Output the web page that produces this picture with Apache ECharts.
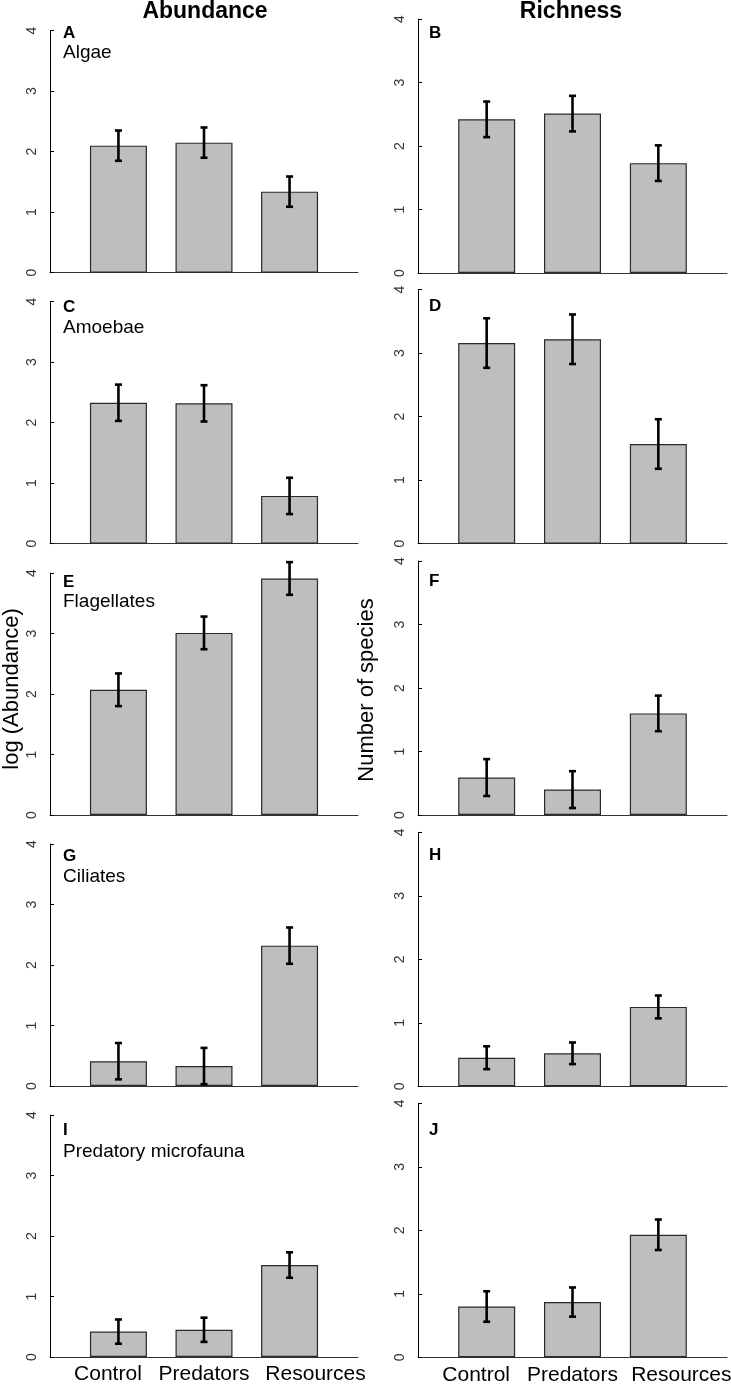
<!DOCTYPE html>
<html>
<head>
<meta charset="utf-8">
<script src="https://cdn.jsdelivr.net/npm/echarts@6/dist/echarts.min.js"></script>
<style>
  html, body { margin: 0; padding: 0; background: #fff; }
  #main { width: 731px; height: 1388px; }
</style>
</head>
<body>
<div id="main"></div>
<script>
// treatments on the x axis
const treatments = ['Control', 'Predators', 'Resources'];
const treatmentPos = [1, 2, 3];
const yTicks = [0, 1, 2, 3, 4];

// abundance, log scale (means and standard errors)
const algaeAbund = [2.10, 2.15, 1.34];
const algaeAbundErr = [0.25, 0.25, 0.25];
const amoebaeAbund = [2.33, 2.32, 0.79];
const amoebaeAbundErr = [0.30, 0.30, 0.30];
const flagAbund = [2.07, 3.01, 3.91];
const flagAbundErr = [0.27, 0.27, 0.27];
const ciliAbund = [0.41, 0.33, 2.32];
const ciliAbundErr = [0.30, 0.30, 0.30];
const predAbund = [0.42, 0.45, 1.52];
const predAbundErr = [0.20, 0.20, 0.21];

// richness, number of species
const algaeRich = [2.42, 2.51, 1.73];
const algaeRichErr = [0.28, 0.28, 0.28];
const amoebaeRich = [3.16, 3.22, 1.57];
const amoebaeRichErr = [0.39, 0.39, 0.39];
const flagRich = [0.59, 0.40, 1.60];
const flagRichErr = [0.29, 0.29, 0.28];
const ciliRich = [0.45, 0.52, 1.25];
const ciliRichErr = [0.18, 0.17, 0.18];
const predRich = [0.80, 0.87, 1.93];
const predRichErr = [0.24, 0.23, 0.24];

const groupNames = ['Algae', 'Amoebae', 'Flagellates', 'Ciliates', 'Predatory microfauna'];

let chartDom = document.getElementById('main');
let myChart = echarts.init(chartDom);
let option;

const FONT = '"Liberation Sans", Arial, sans-serif';

// layout of the panels (pixel boxes)
const leftTops = [30.7, 301.7, 573, 844, 1115];
const rightTops = [19, 289.7, 561, 832.3, 1103.3];
const letterY = {
    left: [33, 307, 582, 856.7, 1130.7],
    right: [33, 306.7, 581.7, 855.7, 1130.7]
};
const nameY = [53, 328, 602, 877, 1151.7];

const panels = [
    { letter: 'A', col: 0, row: 0, mean: algaeAbund, err: algaeAbundErr },
    { letter: 'B', col: 1, row: 0, mean: algaeRich, err: algaeRichErr },
    { letter: 'C', col: 0, row: 1, mean: amoebaeAbund, err: amoebaeAbundErr },
    { letter: 'D', col: 1, row: 1, mean: amoebaeRich, err: amoebaeRichErr },
    { letter: 'E', col: 0, row: 2, mean: flagAbund, err: flagAbundErr },
    { letter: 'F', col: 1, row: 2, mean: flagRich, err: flagRichErr },
    { letter: 'G', col: 0, row: 3, mean: ciliAbund, err: ciliAbundErr },
    { letter: 'H', col: 1, row: 3, mean: ciliRich, err: ciliRichErr },
    { letter: 'I', col: 0, row: 4, mean: predAbund, err: predAbundErr },
    { letter: 'J', col: 1, row: 4, mean: predRich, err: predRichErr }
];

function renderErr(params, api) {
    const x = api.value(0);
    const m = api.value(1);
    const e = api.value(2);
    const hi = api.coord([x, m + e]);
    const lo = api.coord([x, m - e]);
    const cap = 3.5;
    const st = { stroke: '#000', lineWidth: 2.6 };
    return {
        type: 'group',
        children: [
            { type: 'line', shape: { x1: hi[0], y1: hi[1], x2: lo[0], y2: lo[1] }, style: st },
            { type: 'line', shape: { x1: hi[0] - cap, y1: hi[1], x2: hi[0] + cap, y2: hi[1] }, style: st },
            { type: 'line', shape: { x1: lo[0] - cap, y1: lo[1], x2: lo[0] + cap, y2: lo[1] }, style: st }
        ]
    };
}

const grids = [], xAxes = [], yAxes = [], series = [], graphics = [];

panels.forEach((p, i) => {
    const isLeft = p.col === 0;
    const bottomRow = p.row === 4;
    grids.push({
        left: isLeft ? 50 : 418,
        width: isLeft ? 308 : 309,
        top: isLeft ? leftTops[p.row] : rightTops[p.row],
        height: isLeft ? 242 : 254,
        containLabel: false,
        outerBoundsMode: 'none'
    });
    xAxes.push({
        gridIndex: i,
        type: 'value',
        min: 0.2,
        max: 3.8,
        axisLine: { show: true, lineStyle: { color: '#333', width: 1 } },
        axisTick: { show: false },
        splitLine: { show: false },
        axisLabel: bottomRow ? {
            show: true,
            customValues: treatmentPos,
            margin: 7,
            formatter: (v) => {
                const k = Math.round(v) - 1;
                return '{t' + k + '|' + treatments[k] + '}';
            },
            rich: {
                t0: { fontSize: 21, fontFamily: FONT, color: '#000', padding: [0, 21, 0, 0] },
                t1: { fontSize: 21, fontFamily: FONT, color: '#000' },
                t2: { fontSize: 21, fontFamily: FONT, color: '#000', padding: [0, 0, 0, isLeft ? 52 : 46] }
            }
        } : { show: false }
    });
    yAxes.push({
        gridIndex: i,
        type: 'value',
        min: 0,
        max: 4,
        interval: 1,
        axisLine: { show: true, lineStyle: { color: '#000', width: 1 } },
        axisTick: { show: true, inside: true, length: 4, lineStyle: { color: '#000' } },
        splitLine: { show: false },
        axisLabel: { rotate: 90, margin: 11, color: '#333', fontSize: 14, fontFamily: FONT }
    });
    series.push({
        type: 'bar',
        xAxisIndex: i,
        yAxisIndex: i,
        barWidth: 57,
        data: p.mean.map((v, k) => [treatmentPos[k], v]),
        itemStyle: { color: '#bebebe', borderColor: '#2a2a2a', borderWidth: 1.2 },
        emphasis: { disabled: true },
        z: 2
    });
    series.push({
        type: 'custom',
        xAxisIndex: i,
        yAxisIndex: i,
        clip: false,
        renderItem: renderErr,
        data: p.mean.map((v, k) => [treatmentPos[k], v, p.err[k]]),
        z: 3
    });
    graphics.push({
        type: 'text',
        x: isLeft ? 63 : 429,
        y: isLeft ? letterY.left[p.row] : letterY.right[p.row],
        style: {
            text: p.letter,
            font: 'bold 17px ' + FONT,
            fill: '#000',
            textAlign: 'left',
            textVerticalAlign: 'middle'
        }
    });
    if (isLeft) {
        graphics.push({
            type: 'text',
            x: 63,
            y: nameY[p.row],
            style: {
                text: groupNames[p.row],
                font: '19px ' + FONT,
                fill: '#000',
                textAlign: 'left',
                textVerticalAlign: 'middle'
            }
        });
    }
});

// column titles and axis titles
graphics.push(
    { type: 'text', x: 205, y: 12, style: { text: 'Abundance', font: 'bold 23px ' + FONT, fill: '#000', textAlign: 'center', textVerticalAlign: 'middle' } },
    { type: 'text', x: 571, y: 12, style: { text: 'Richness', font: 'bold 23px ' + FONT, fill: '#000', textAlign: 'center', textVerticalAlign: 'middle' } },
    { type: 'text', x: 12, y: 689, rotation: Math.PI / 2, style: { text: 'log (Abundance)', font: '22px ' + FONT, fill: '#000', textAlign: 'center', textVerticalAlign: 'middle' } },
    { type: 'text', x: 367, y: 690, rotation: Math.PI / 2, style: { text: 'Number of species', font: '22px ' + FONT, fill: '#000', textAlign: 'center', textVerticalAlign: 'middle' } }
);

option = {
    backgroundColor: '#fff',
    animation: false,
    textStyle: { fontFamily: FONT },
    grid: grids,
    xAxis: xAxes,
    yAxis: yAxes,
    series: series,
    graphic: graphics
};

option && myChart.setOption(option);
</script>
</body>
</html>
